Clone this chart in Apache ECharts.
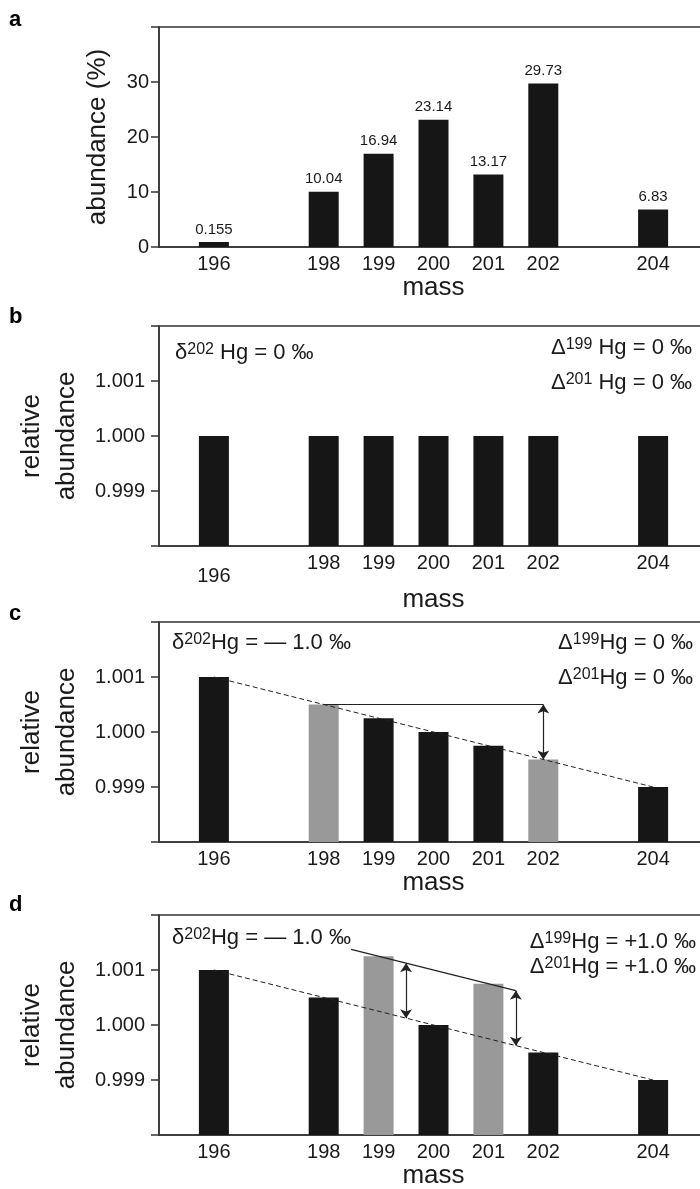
<!DOCTYPE html>
<html><head><meta charset="utf-8">
<script src="https://cdn.jsdelivr.net/npm/echarts@6/dist/echarts.min.js"></script>
<style>html,body{margin:0;padding:0;background:#fff}#c{width:700px;height:1189px}</style>
</head><body><div id="c"></div><script>
// ---- data ----
const masses = [196, 198, 199, 200, 201, 202, 204];
const abundanceA = [0.155, 10.04, 16.94, 23.14, 13.17, 29.73, 6.83];
const relB = [1.000, 1.000, 1.000, 1.000, 1.000, 1.000, 1.000];
const relC = [1.001, 1.0005, 1.00025, 1.000, 0.99975, 0.9995, 0.999];
const relD = [1.001, 1.0005, 1.00125, 1.000, 1.00075, 0.9995, 0.999];
const greyC = [198, 202];
const greyD = [199, 201];
const massTicks = [196, 198, 199, 200, 201, 202, 204];
const tickA = [0, 10, 20, 30];
const tickRel = [0.999, 1.000, 1.001];
const mdfLine = [[196, 1.001], [204, 0.999]];
const solidC = [[198, 1.0005], [202, 1.0005]];
const arrowsC = [[202, 1.0005, 0.9995]];
const solidD = [[198.5, 1.001375], [201.5, 1.000625]];
const arrowsD = [[199.5, 1.001125, 1.000125], [201.5, 1.000625, 0.999625]];

// ---- style ----
const FONT = "'Liberation Sans', Arial, Helvetica, sans-serif";
const TXT = '#1a1a1a';
const AX = '#333333';
const BLACK = '#161616';
const GREY = '#999999';
const tops = [27, 326, 622, 915];
const H = 220;

const chart = echarts.init(document.getElementById('c'), null, {renderer: 'canvas'});

const grids = tops.map(t => ({
  left: 159, top: t, width: 549, height: H,
  outerBoundsMode: 'none', containLabel: false,
  show: true, borderColor: AX, borderWidth: 1.5, backgroundColor: 'transparent'
}));

const xAxes = tops.map((t, i) => ({
  gridIndex: i, type: 'value', min: 195, max: 205, interval: 1,
  axisLine: {show: true, lineStyle: {color: AX, width: 1.5}},
  axisTick: {show: false}, splitLine: {show: false},
  axisLabel: {
    fontSize: 20, color: TXT, fontFamily: FONT, margin: 7,
    formatter: v => {
      if (!massTicks.includes(v)) return '';
      if (i === 1 && v === 196) return '{lo|196}';
      return String(v);
    },
    rich: {lo: {fontSize: 20, color: TXT, fontFamily: FONT, padding: [13, 0, 0, 0]}}
  },
  name: 'mass', nameLocation: 'middle', nameGap: 28,
  nameTextStyle: {fontSize: 26, color: TXT, fontFamily: FONT}
}));

const relFmt = v => {
  const r = Math.round(v * 1000) / 1000;
  return tickRel.some(t => Math.abs(t - r) < 1e-9) ? r.toFixed(3) : '';
};

const yAxes = [
  {
    gridIndex: 0, type: 'value', min: 0, max: 40, interval: 10,
    axisLine: {show: true, lineStyle: {color: AX, width: 1.5}},
    axisTick: {show: true, length: 8, lineStyle: {color: AX, width: 1.5}},
    splitLine: {show: false},
    axisLabel: {fontSize: 20, color: TXT, fontFamily: FONT, margin: 10,
      formatter: v => tickA.includes(v) ? String(v) : ''},
    name: 'abundance (%)', nameLocation: 'middle', nameGap: 48, nameRotate: 90,
    nameTextStyle: {fontSize: 26, color: TXT, fontFamily: FONT}
  }
].concat([1, 2, 3].map(i => ({
  gridIndex: i, type: 'value', min: 0.998, max: 1.002, interval: 0.001,
  axisLine: {show: true, lineStyle: {color: AX, width: 1.5}},
  axisTick: {show: true, length: 8, lineStyle: {color: AX, width: 1.5}},
  splitLine: {show: false},
  axisLabel: {fontSize: 20, color: TXT, fontFamily: FONT, margin: 14, formatter: relFmt},
  name: 'relative\nabundance', nameLocation: 'middle', nameGap: 71, nameRotate: 90,
  nameTextStyle: {fontSize: 26, lineHeight: 35, color: TXT, fontFamily: FONT}
})));

function barData(vals, greys) {
  return masses.map((m, i) => ({
    value: [m, vals[i]],
    itemStyle: {color: greys.includes(m) ? GREY : BLACK}
  }));
}

function arrowMarks(arr) {
  return arr.map(a => [{coord: [a[0], a[1]]}, {coord: [a[0], a[2]]}]);
}

const series = [
  {
    type: 'bar', xAxisIndex: 0, yAxisIndex: 0, barWidth: 30, barMinHeight: 5,
    data: barData(abundanceA, []),
    label: {show: true, position: 'top', distance: 5, fontSize: 15, color: TXT, fontFamily: FONT,
      formatter: p => String(p.value[1])},
    silent: true
  },
  {type: 'bar', xAxisIndex: 1, yAxisIndex: 1, barWidth: 30, data: barData(relB, []), silent: true},
  {type: 'bar', xAxisIndex: 2, yAxisIndex: 2, barWidth: 30, data: barData(relC, greyC), silent: true},
  {type: 'bar', xAxisIndex: 3, yAxisIndex: 3, barWidth: 30, data: barData(relD, greyD), silent: true},
  // dashed mass-dependent lines
  {type: 'line', xAxisIndex: 2, yAxisIndex: 2, data: mdfLine, symbol: 'none', silent: true, z: 5,
    lineStyle: {color: '#222', width: 1, type: [5, 3]}},
  {type: 'line', xAxisIndex: 3, yAxisIndex: 3, data: mdfLine, symbol: 'none', silent: true, z: 5,
    lineStyle: {color: '#222', width: 1, type: [5, 3]}},
  // solid lines + arrows
  {type: 'line', xAxisIndex: 2, yAxisIndex: 2, data: solidC, symbol: 'none', silent: true, z: 5,
    lineStyle: {color: '#222', width: 1.2},
    markLine: {silent: true, symbol: ['arrow', 'arrow'], symbolSize: 9, label: {show: false},
      lineStyle: {color: '#222', width: 1.2, type: 'solid'}, emphasis: {disabled: true},
      data: arrowMarks(arrowsC)}},
  {type: 'line', xAxisIndex: 3, yAxisIndex: 3, data: solidD, symbol: 'none', silent: true, z: 5,
    lineStyle: {color: '#222', width: 1.2},
    markLine: {silent: true, symbol: ['arrow', 'arrow'], symbolSize: 9, label: {show: false},
      lineStyle: {color: '#222', width: 1.2, type: 'solid'}, emphasis: {disabled: true},
      data: arrowMarks(arrowsD)}}
];

const rich = {
  m: {fontSize: 22, lineHeight: 26, color: TXT, fontFamily: FONT, fontWeight: 'normal'},
  s: {fontSize: 16, lineHeight: 16, padding: [0, 0, 7, 0], color: TXT, fontFamily: FONT, fontWeight: 'normal'}
};
function ann(text, pos) {
  return Object.assign({text, padding: 0, textStyle: {fontWeight: 'normal', fontSize: 22, color: TXT, fontFamily: FONT, rich}}, pos);
}
function letter(t, top) {
  return {text: t, left: 9, top, padding: 0,
    textStyle: {fontSize: 22, fontWeight: 'bold', color: '#000', fontFamily: FONT}};
}

const titles = [
  letter('a', 9), letter('b', 306), letter('c', 603), letter('d', 894),
  ann('{m|δ}{s|202}{m| Hg = 0 ‰}', {left: 175, top: 340}),
  ann('{m|Δ}{s|199}{m| Hg = 0 ‰}', {right: 8, top: 335}),
  ann('{m|Δ}{s|201}{m| Hg = 0 ‰}', {right: 8, top: 370}),
  ann('{m|δ}{s|202}{m|Hg = — 1.0 ‰}', {left: 172, top: 630}),
  ann('{m|Δ}{s|199}{m|Hg = 0 ‰}', {right: 7, top: 630}),
  ann('{m|Δ}{s|201}{m|Hg = 0 ‰}', {right: 7, top: 665}),
  ann('{m|δ}{s|202}{m|Hg = — 1.0 ‰}', {left: 172, top: 925}),
  ann('{m|Δ}{s|199}{m|Hg = +1.0 ‰}', {right: 4, top: 929}),
  ann('{m|Δ}{s|201}{m|Hg = +1.0 ‰}', {right: 4, top: 954})
];

chart.setOption({
  animation: false,
  backgroundColor: '#fff',
  title: titles,
  grid: grids,
  xAxis: xAxes,
  yAxis: yAxes,
  series
});
</script></body></html>
